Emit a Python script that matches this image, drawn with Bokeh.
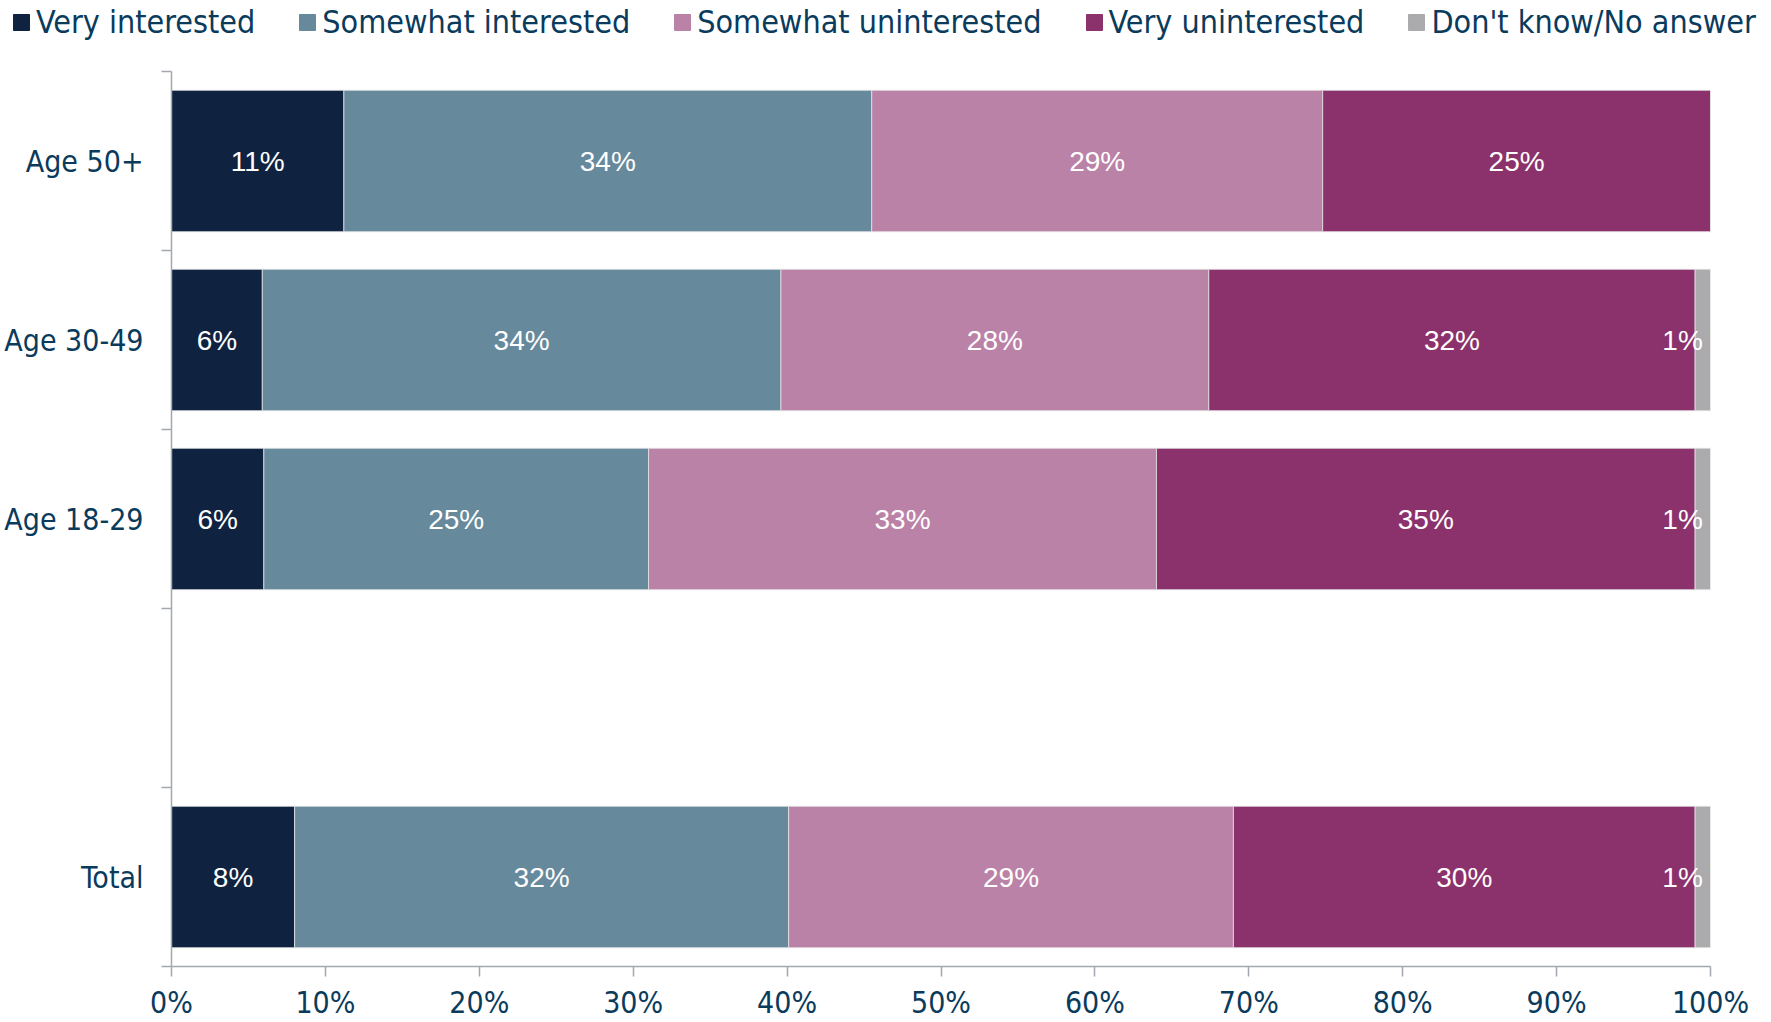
from bokeh.plotting import figure
from bokeh.models import ColumnDataSource, FixedTicker, PrintfTickFormatter, Range1d, Legend, LegendItem
from bokeh.embed import file_html
from bokeh.resources import INLINE
from bokeh.core.properties import value

# ---- data ----
groups = ["Age 50+", "Age 30-49", "Age 18-29", "Total"]
group_pos = [4.5, 3.5, 2.5, 0.5]
series = ["Very interested", "Somewhat interested", "Somewhat uninterested",
          "Very uninterested", "Don't know/No answer"]
very_interested = [11.2, 5.9, 6.0, 8.0]
somewhat_interested = [34.3, 33.7, 25.0, 32.1]
somewhat_uninterested = [29.3, 27.8, 33.0, 28.9]
very_uninterested = [25.2, 31.6, 35.0, 30.0]
dont_know = [0.0, 1.0, 1.0, 1.0]
x_ticks = [0, 10, 20, 30, 40, 50, 60, 70, 80, 90, 100]
slot_bounds = [0, 1, 2, 3, 4, 5]

colors = ["#0F2341", "#67899C", "#BB82A8", "#8B326C", "#ABABAD"]
keys = ["vi", "si", "su", "vu", "dk"]
values_by_series = [very_interested, somewhat_interested, somewhat_uninterested,
                    very_uninterested, dont_know]

AXIS_FONT = "DejaVu Sans Condensed"
LABEL_FONT = "Liberation Sans"
TEXT_COLOR = "#0A3B5C"
AXIS_COLOR = "#A3A7B0"

src = ColumnDataSource(dict(y=group_pos, **{k: v for k, v in zip(keys, values_by_series)}))

# ---- main chart ----
p = figure(width=1771, height=976, output_backend="svg", toolbar_location=None,
           x_range=Range1d(0, 100), y_range=Range1d(0, 5),
           min_border_left=171, min_border_right=61, min_border_top=25, min_border_bottom=56)
p.outline_line_color = None
p.grid.visible = False

p.hbar_stack(keys, y="y", height=0.79, color=colors, source=src,
             line_color="#E4E4E4", line_width=0.8)

# ---- segment labels ----
cx, cy, ct = [], [], []
dx, dy, dt = [], [], []
for i in range(len(groups)):
    left = 0.0
    for j, vals in enumerate(values_by_series):
        v = vals[i]
        if v > 0:
            c = left + v / 2.0
            t = f"{round(v)}%"
            if keys[j] == "dk":
                dx.append(c); dy.append(group_pos[i]); dt.append(t)
            else:
                cx.append(c); cy.append(group_pos[i]); ct.append(t)
        left += v

p.text(x=cx, y=cy, text=ct, text_color="white", text_align="center",
       text_baseline="middle", text_font=value(LABEL_FONT), text_font_size="28px")
p.text(x=dx, y=dy, text=dt, text_color="white", text_align="right",
       text_baseline="middle", text_font=value(LABEL_FONT), text_font_size="28px")

# ---- axes ----
xa = p.xaxis[0]
xa.ticker = FixedTicker(ticks=x_ticks, minor_ticks=[])
xa.formatter = PrintfTickFormatter(format="%d%%")
xa.major_label_text_font = AXIS_FONT
xa.major_label_text_font_size = "30px"
xa.major_label_text_color = TEXT_COLOR
xa.axis_line_color = AXIS_COLOR
xa.axis_line_width = 1.5
xa.major_tick_line_color = AXIS_COLOR
xa.major_tick_line_width = 1.5
xa.major_tick_out = 10
xa.major_tick_in = 0
xa.minor_tick_line_color = None
xa.major_label_standoff = 8

ya = p.yaxis[0]
ya.ticker = FixedTicker(ticks=group_pos, minor_ticks=slot_bounds)
ya.major_label_overrides = {pos: g for pos, g in zip(group_pos, groups)}
ya.major_label_text_font = AXIS_FONT
ya.major_label_text_font_size = "30px"
ya.major_label_text_color = TEXT_COLOR
ya.axis_line_color = AXIS_COLOR
ya.axis_line_width = 1.5
ya.major_tick_line_color = None
ya.major_tick_out = 0
ya.major_tick_in = 0
ya.minor_tick_line_color = AXIS_COLOR
ya.minor_tick_line_width = 1.5
ya.minor_tick_out = 10
ya.minor_tick_in = 0
ya.major_label_standoff = 18

# ---- legend strip (separate root above the chart) ----
pl = figure(width=1771, height=46, output_backend="svg", toolbar_location=None,
            x_range=Range1d(0, 100), y_range=Range1d(10, 11),
            x_axis_location=None, y_axis_location=None, min_border=0)
pl.outline_line_color = None
pl.grid.visible = False
legend_rs = pl.hbar_stack(keys, y="y", height=0.79, color=colors, source=src)
items = [LegendItem(label=name, renderers=[r]) for name, r in zip(series, legend_rs)]
lg = Legend(items=items, orientation="horizontal", location=(11, 5),
            background_fill_alpha=0, border_line_color=None, padding=0, margin=0,
            spacing=42, glyph_width=20, glyph_height=20, label_standoff=5,
            label_text_font=AXIS_FONT, label_text_font_size="32px",
            label_text_color=TEXT_COLOR)
pl.add_layout(lg, "center")

open("out.html", "w").write(file_html([pl, p], INLINE))
